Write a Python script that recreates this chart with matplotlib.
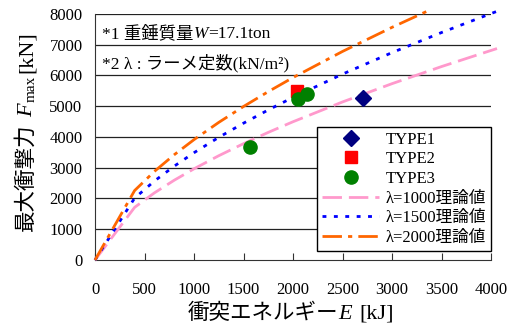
import matplotlib
matplotlib.use("Agg")
import matplotlib.pyplot as plt
from matplotlib.transforms import IdentityTransform

plt.rcParams['font.family'] = ['Liberation Serif', 'Noto Sans CJK JP']

# measured points
type1_E = [2710]
type1_F = [5260]
type2_E = [2040]
type2_F = [5500]
type3_E = [1565, 2055, 2145]
type3_F = [3690, 5225, 5400]

# theoretical curves
curve_E = [0, 400, 600, 800, 1000, 1250, 1500, 1750, 2000, 2500, 3000, 3500, 4000, 4060]
lam1000_F = [0, 1712, 2183, 2594, 2966, 3391, 3783, 4150, 4496, 5140, 5734, 6290, 6814, 6876]
lam1500_F = [0, 2013, 2568, 3051, 3489, 3989, 4449, 4880, 5288, 6045, 6744, 7397, 8014, 8086]
lam2000_E = [0, 400, 600, 800, 1000, 1250, 1500, 1750, 2000, 2500, 3000, 3400]
lam2000_F = [0, 2259, 2881, 3423, 3914, 4475, 4992, 5475, 5933, 6782, 7566, 8157]

x_ticks = [0, 500, 1000, 1500, 2000, 2500, 3000, 3500, 4000]
y_ticks = [0, 1000, 2000, 3000, 4000, 5000, 6000, 7000, 8000]


def rich(fig, parts, x, y, rotation=0, center=True):
    # parts: (text, size, style, baseline shift px, gap after px)
    r = fig.canvas.get_renderer()
    arts = []
    total = 0
    for s, size, style, shift, gap in parts:
        t = fig.text(0, 0, s, fontsize=size, style=style, transform=IdentityTransform(),
                     ha='left', va='baseline', rotation=rotation, rotation_mode='anchor')
        bb = t.get_window_extent(r)
        w = (bb.width if rotation == 0 else bb.height) + gap
        arts.append((t, w, shift))
        total += w
    pos = -total / 2 if center else 0
    for t, w, shift in arts:
        if rotation == 0:
            t.set_position((x + pos, y + shift))
        else:
            t.set_position((x - shift, y + pos))
        pos += w


fig = plt.figure(figsize=(5.15, 3.25), dpi=100)
ax = fig.add_axes([0.1845, 0.2, 0.769, 0.757])

for y in y_ticks[1:]:
    ax.axhline(y, color='#222222', lw=0.9, zorder=1)

ax.plot(curve_E, lam1000_F, color='#FF99CC', lw=2, dashes=(7, 2.5),
        label='λ=1000理論値', clip_on=False, zorder=3)
ax.plot(curve_E, lam1500_F, color='#0000FF', lw=2, dashes=(1.4, 2.7),
        label='λ=1500理論値', clip_on=False, zorder=3)
ax.plot(lam2000_E, lam2000_F, color='#FF6600', lw=2, dashes=(7, 2.2, 1.5, 2.2),
        label='λ=2000理論値', clip_on=False, zorder=3)

ax.plot(type1_E, type1_F, 'D', color='#000080', ms=8, ls='none', label='TYPE1', zorder=4)
ax.plot(type2_E, type2_F, 's', color='#FF0000', ms=9, ls='none', label='TYPE2', zorder=4)
ax.plot(type3_E, type3_F, 'o', color='#008000', ms=9.5, ls='none', label='TYPE3', zorder=4)

ax.set_xlim(0, 4000)
ax.set_ylim(0, 8000)
ax.set_xticks(x_ticks)
ax.set_yticks(y_ticks)
ax.tick_params(axis='x', direction='in', length=5, pad=16, labelsize=12, color='#333333')
ax.tick_params(axis='y', direction='in', length=0, pad=9, labelsize=12)
ax.spines['top'].set_visible(False)
ax.spines['right'].set_visible(False)
ax.spines['left'].set_color('#333333')
ax.spines['bottom'].set_color('#333333')

# axis labels (mixed CJK / italic latin)
rich(fig, [('衝突エネルギー', 15.5, 'normal', 0, 0),
           ('E', 16, 'italic', 0, 8),
           ('[kJ]', 16, 'normal', 0, 0)], 291, 6)
rich(fig, [('最大衝撃力', 15.5, 'normal', 0, 7),
           ('F', 16, 'italic', 0, 1),
           ('max', 11, 'normal', -3, 3),
           ('[kN]', 16, 'normal', 0, 0)], 32, 194, rotation=90)

# notes
rich(fig, [('*1 重錘質量', 12.5, 'normal', 0, 0),
           ('W', 12.5, 'italic', 0, 0),
           ('=17.1ton', 12.5, 'normal', 0, 0)], 102, 287, center=False)
rich(fig, [('*2 λ : ラーメ定数(kN/m²)', 12.5, 'normal', 0, 0)], 102, 257, center=False)

handles, labels = ax.get_legend_handles_labels()
order = [3, 4, 5, 0, 1, 2]
leg = ax.legend([handles[i] for i in order], [labels[i] for i in order],
                loc='lower right', bbox_to_anchor=(1.0, 0.037), borderaxespad=0,
                fontsize=12, frameon=True, fancybox=False, framealpha=1,
                edgecolor='black', handlelength=3.4, handletextpad=0.4,
                labelspacing=0.22, borderpad=0.3)
leg.get_frame().set_linewidth(1.0)
leg.set_zorder(5)

fig.savefig('out.png', dpi=100)
